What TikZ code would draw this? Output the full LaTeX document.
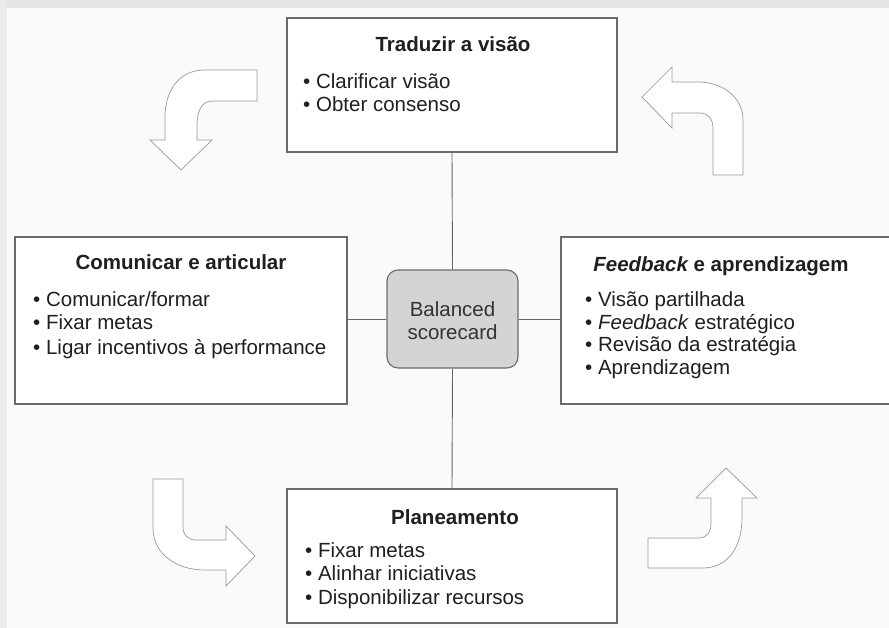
\documentclass[tikz,border=0pt]{standalone}
\usepackage{fontspec}
\setmainfont{Liberation Sans}
\begin{document}
\begin{tikzpicture}[x=1pt,y=-1pt,
  panel/.style={draw=black!58, line width=1.1pt, fill=white, inner sep=0pt},
  hub/.style={draw=black!58, line width=1.1pt, fill=black!17, rounded corners=11pt, inner sep=0pt,
    minimum width=131pt, minimum height=98pt},
  heading/.style={font=\fontsize{20.5}{23}\selectfont\bfseries, text=black!88, inner sep=0pt, anchor=base},
  item/.style={font=\fontsize{20.5}{23}\selectfont, text=black!88, inner sep=0pt, anchor=base west},
  hubtext/.style={font=\fontsize{20.5}{23}\selectfont, text=black!80, inner sep=0pt, anchor=base},
  link/.style={draw=black!60, line width=0.9pt},
  hollowarrow/.style={draw=black!40, line width=0.7pt, fill=white, line join=miter}]

\useasboundingbox (0,0) rectangle (889,628);
\clip (0,0) rectangle (889,628);

% paper and scan edges
\fill[black!2] (0,0) rectangle (889,628);
\fill[black!10] (0,0) rectangle (889,8);
\fill[black!8] (0,0) rectangle (7,628);

% the four panels and the hub
\node[panel, minimum width=330pt, minimum height=134pt] (vision) at (452,85) {};
\node[panel, minimum width=332pt, minimum height=167pt] (comm) at (181,320.5) {};
\node[panel, minimum width=339pt, minimum height=167pt] (learn) at (730.5,320.5) {};
\node[panel, minimum width=330pt, minimum height=134pt] (plan) at (452,556) {};
\node[hub] (bsc) at (452.5,319) {};

% links from the hub to the panels
\draw[link] (bsc.north) -- (vision.south);
\draw[link] (bsc.south) -- (plan.north);
\draw[link] (bsc.west) -- (bsc.west -| comm.east);
\draw[link] (bsc.east) -- (bsc.east -| learn.west);

% hub text
\node[hubtext] (bsc1) at (452.5,317) {Balanced};
\node[hubtext] (bsc2) at (452.5,339) {scorecard};

% Traduzir a visão
\node[heading] (vt) at (453,52) {Traduzir a visão};
\node[item] (v1) at (303,89) {• Clarificar visão};
\node[item] (v2) at (303,112) {• Obter consenso};

% Comunicar e articular
\node[heading] (ct) at (181,270) {Comunicar e articular};
\node[item] (c1) at (33,307) {• Comunicar/formar};
\node[item] (c2) at (33,330) {• Fixar metas};
\node[item] (c3) at (33,354) {• Ligar incentivos à performance};

% Feedback e aprendizagem
\node[heading] (lt) at (721,272) {\itshape Feedback\upshape{} e aprendizagem};
\node[item] (l1) at (585,307) {• Visão partilhada};
\node[item] (l2) at (585,330) {• \textit{Feedback} estratégico};
\node[item] (l3) at (585,352) {• Revisão da estratégia};
\node[item] (l4) at (585,374) {• Aprendizagem};

% Planeamento
\node[heading] (pt) at (455,524) {Planeamento};
\node[item] (p1) at (305,557) {• Fixar metas};
\node[item] (p2) at (305,580) {• Alinhar iniciativas};
\node[item] (p3) at (305,604) {• Disponibilizar recursos};

% hollow curved arrows showing the cycle
% top left: from the vision panel down towards communication
\draw[hollowarrow] (257,70) -- (205,70) .. controls (178,70) and (165,92) .. (165,117)
  -- (165,140) -- (150,140) -- (181,170) -- (212,140) -- (197,140) -- (197,126)
  .. controls (197,110) and (202,101) .. (212,101) -- (257,101) -- cycle;
% bottom left: from communication towards planning
\draw[hollowarrow] (153,479) -- (153,528) .. controls (153,553) and (175,570) .. (205,570)
  -- (226,570) -- (226,586) -- (255,556) -- (226,526) -- (226,540) -- (196,540)
  .. controls (188,540) and (183,535) .. (183,527) -- (183,479) -- cycle;
% bottom right: from planning up towards feedback
\draw[hollowarrow] (648,538) -- (699,538) .. controls (707,538) and (711,532) .. (711,523)
  -- (711,498) -- (696,498) -- (726,468) -- (757,498) -- (742,498) -- (742,518)
  .. controls (742,548) and (727,568) .. (703,568) -- (648,568) -- cycle;
% top right: from feedback back to the vision panel
\draw[hollowarrow] (743,175) -- (743,120) .. controls (743,97) and (722,82) .. (698,82)
  -- (672,82) -- (672,67) -- (642,97) -- (672,128) -- (672,113) -- (700,113)
  .. controls (708,113) and (713,119) .. (713,128) -- (713,175) -- cycle;
\end{tikzpicture}
\end{document}
